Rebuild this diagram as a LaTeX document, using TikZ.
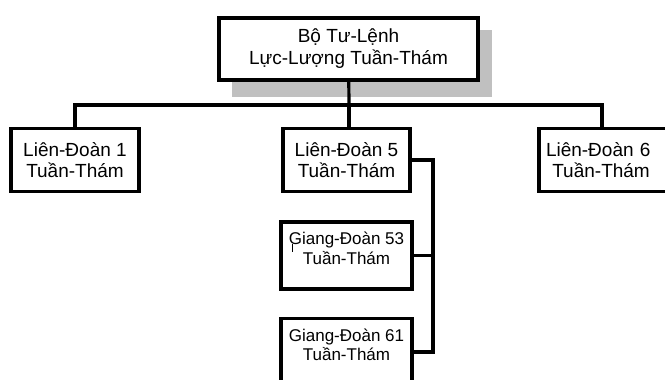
\documentclass[tikz,border=0pt]{standalone}
\usepackage{fontspec}
\setmainfont{Liberation Sans}
\usetikzlibrary{calc}
\definecolor{shadowgray}{RGB}{192,192,192}

\begin{document}
\begin{tikzpicture}[x=1pt,y=-1pt,
    unit/.style={draw, line width=3.2pt, align=center, inner sep=0pt,
      minimum width=128pt, minimum height=63pt, font=\fontsize{19}{21}\selectfont},
    boat/.style={unit, minimum width=131pt, minimum height=67pt, text depth=15pt,
      font=\fontsize{17}{19.5}\selectfont},
    link/.style={line width=3.2pt}]
  \clip (0,0) rectangle (665,380);
  \fill[shadowgray] (232,30) rectangle (492,97);

  \node[unit, fill=white, minimum width=259pt, minimum height=62pt,
    font=\fontsize{19}{22}\selectfont] (BTL) at (348.5,49) {Bộ Tư-Lệnh\\Lực-Lượng Tuần-Thám};

  \node[unit] (LD1) at (75,160) {Liên-Đoàn 1\\Tuần-Thám};
  \node[unit, minimum width=127pt] (LD5) at (346.5,160) {Liên-Đoàn 5\\Tuần-Thám};
  \node[unit, minimum width=134pt, text width=120pt, align=left] (LD6) at (606,160) {Liên-Đoàn 6\\\ Tuần-Thám};

  \node[boat] (GD53) at (346.5,255.5) {Giang-Đoàn 53\\Tuần-Thám};
  \node[boat] (GD61) at (346.5,352) {Giang-Đoàn 61\\Tuần-Thám};

  \coordinate (bus) at (349,105);
  \coordinate (trunk) at (433,160);

  \draw[link] (BTL) -- (bus);
  \draw[link] (bus) -| (LD1);
  \draw[link] (bus) -- (bus -| 602,0) -- (LD6.north -| 602,0);
  \draw[link] (bus) -- (bus |- LD5.north);
  \draw[link] (LD5.east) -- (trunk) |- (GD61.east);
  \draw[link] (trunk |- GD53.east) -- (GD53.east);

  % stray tick in the scan
  \draw[line width=0.8pt] ($(GD53.west)+(13,-11.5)$) -- ++(0,8);
\end{tikzpicture}
\end{document}
